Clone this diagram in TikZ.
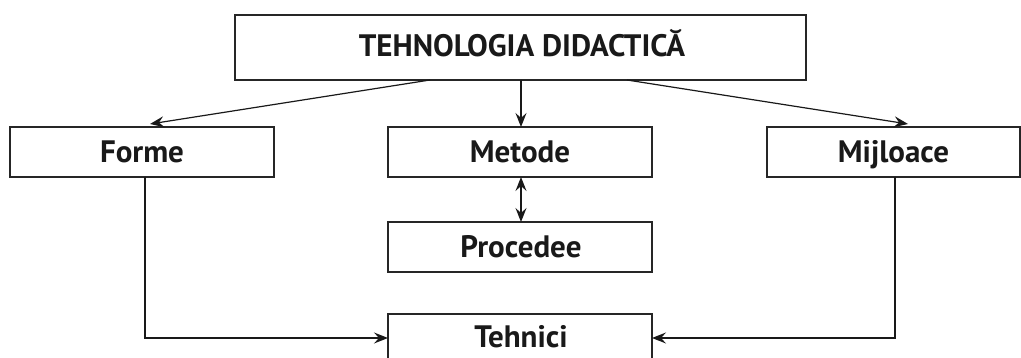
\documentclass[tikz,border=0pt]{standalone}
\usepackage{fontspec}
\setmainfont{PT Sans}
\usetikzlibrary{arrows.meta}
\begin{document}
\begin{tikzpicture}[x=1pt,y=-1pt,
  box/.style={draw=black!85,line width=1.3pt},
  lbl/.style={font=\fontsize{31}{36}\selectfont\bfseries,text=black!90,anchor=base,inner sep=0pt},
  tip/.style={Stealth[length=14pt,width=11pt,inset=5pt]},
  link/.style={draw=black!90,line width=1.2pt,-{Stealth[length=14pt,width=11pt,inset=5pt]}},
  both/.style={link,{Stealth[length=14pt,width=11pt,inset=5pt]}-{Stealth[length=14pt,width=11pt,inset=5pt]}}]
  \useasboundingbox (0,0) rectangle (1021,358);
  \begin{scope}
    \clip (0,0) rectangle (1021,358);
    % boxes
    \draw[box] (235,15) rectangle (806,80);
    \draw[box] (10,127) rectangle (274,177);
    \draw[box] (388,127) rectangle (652,177);
    \draw[box] (767,127) rectangle (1020,177);
    \draw[box] (388,222) rectangle (652,272);
    \draw[box] (388,314) rectangle (652,370);
  \end{scope}
  % labels, placed on their baselines
  \node[lbl] (top) at (522,57) {TEHNOLOGIA DIDACTICĂ};
  \node[lbl] (forme) at (142,163) {Forme};
  \node[lbl] (metode) at (520,163) {Metode};
  \node[lbl] (mij) at (893.5,163) {Mijloace};
  \node[lbl] (proc) at (521,258) {Procedee};
  \node[lbl] (teh) at (521,348) {Tehnici};
  % connection points on box edges
  \coordinate (tL) at (430,80);
  \coordinate (tM) at (521,80);
  \coordinate (tR) at (627,80);
  \coordinate (fT) at (150,124);
  \coordinate (mT) at (521,127);
  \coordinate (jT) at (908,124);
  \coordinate (mB) at (521,177);
  \coordinate (pT) at (521,222);
  \coordinate (fB) at (145,177);
  \coordinate (jB) at (895,177);
  \coordinate (hL) at (388,338);
  \coordinate (hR) at (652,338);
  % connectors
  \draw[link] (tL) -- (fT);
  \draw[link] (tM) -- (mT);
  \draw[link] (tR) -- (jT);
  \draw[both] (mB) -- (pT);
  \draw[link] (fB) |- (hL);
  \draw[link] (jB) |- (hR);
\end{tikzpicture}
\end{document}
